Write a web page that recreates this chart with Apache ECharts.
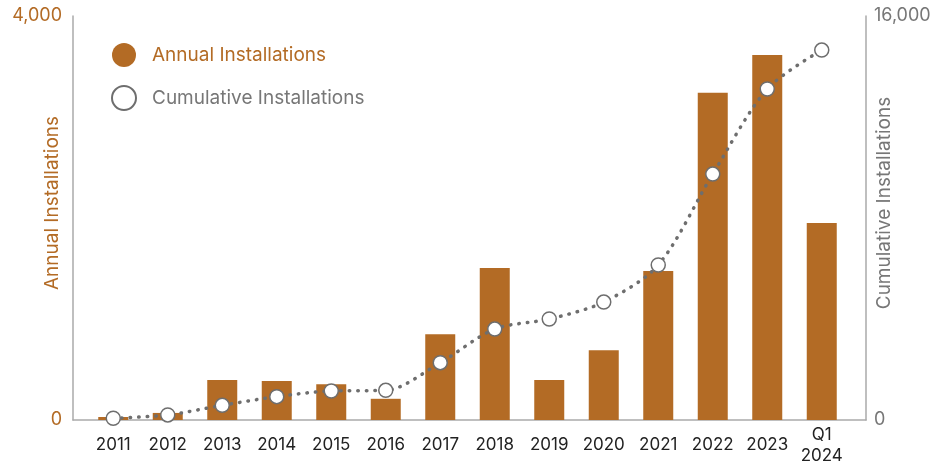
<!DOCTYPE html>
<html><head><meta charset="utf-8">
<script src="https://cdn.jsdelivr.net/npm/echarts@6/dist/echarts.min.js"></script>
<style>html,body{margin:0;padding:0;background:#fff}#c{width:946px;height:466px}</style>
</head><body><div id="c"></div>
<script>
const categories = ['2011','2012','2013','2014','2015','2016','2017','2018','2019','2020','2021','2022','2023','Q1\n2024'];
const annualInstallations = [30, 70, 395, 385, 355, 210, 850, 1505, 395, 690, 1475, 3240, 3615, 1950];
const cumulativeInstallations = [70, 200, 580, 925, 1150, 1175, 2270, 3600, 4000, 4670, 6140, 9740, 13110, 14650];
const leftTicks = [0, 4000];
const rightTicks = [0, 16000];

const BROWN = '#B36B25';
const GRAY = '#6e6e6e';
const AXIS = '#aaaaaa';
const FONT = 'Inter, "Noto Sans", sans-serif';
const fmt = v => v.toLocaleString('en-US');

const chart = echarts.init(document.getElementById('c'));
chart.setOption({
  animation: false,
  textStyle: { fontFamily: FONT },
  grid: [
    { left: 86, right: 97, top: 16, bottom: 46, outerBoundsMode: 'none', containLabel: false },
    { left: 73, right: 80, top: 16, bottom: 46, outerBoundsMode: 'none', containLabel: false }
  ],
  legend: {
    orient: 'vertical', left: 111, top: 43, padding: 0,
    itemWidth: 24, itemHeight: 24, itemGap: 18,
    icon: 'circle',
    textStyle: { fontSize: 19, fontFamily: FONT, padding: [0, 0, 0, 11] },
    data: [
      { name: 'Annual Installations', textStyle: { color: BROWN } },
      { name: 'Cumulative Installations', textStyle: { color: '#777' } }
    ]
  },
  xAxis: [
    {
      type: 'category', data: categories, gridIndex: 0,
      axisLine: { show: false }, axisTick: { show: false },
      axisLabel: { color: '#222', fontSize: 17, margin: 25, verticalAlign: 'middle', lineHeight: 21, interval: 0 }
    },
    {
      type: 'value', gridIndex: 1, min: 0, max: 1,
      axisLine: { show: true, lineStyle: { color: AXIS, width: 1.5 } },
      axisTick: { show: false }, axisLabel: { show: false }, splitLine: { show: false }
    }
  ],
  yAxis: [
    {
      type: 'value', gridIndex: 0, min: leftTicks[0], max: leftTicks[1], interval: leftTicks[1] - leftTicks[0],
      offset: 13,
      name: 'Annual Installations', nameLocation: 'middle', nameGap: 11, nameRotate: 90, nameMoveOverlap: false,
      nameTextStyle: { color: BROWN, fontSize: 19, padding: [0, 0, 0, 30] },
      axisLine: { show: true, lineStyle: { color: AXIS, width: 1.5 } },
      axisTick: { show: false }, splitLine: { show: false },
      axisLabel: { color: BROWN, fontSize: 18, margin: 11, formatter: fmt }
    },
    {
      type: 'value', gridIndex: 0, position: 'right', min: rightTicks[0], max: rightTicks[1], interval: rightTicks[1] - rightTicks[0],
      offset: 17,
      name: 'Cumulative Installations', nameLocation: 'middle', nameGap: 9, nameRotate: 90, nameMoveOverlap: false,
      nameTextStyle: { color: '#777', fontSize: 19, padding: [0, 0, 0, 30] },
      axisLine: { show: true, lineStyle: { color: AXIS, width: 1.5 } },
      axisTick: { show: false }, splitLine: { show: false },
      axisLabel: { color: '#777', fontSize: 18, margin: 8, formatter: fmt }
    },
    {
      type: 'value', gridIndex: 1, show: false
    }
  ],
  series: [
    {
      name: 'Annual Installations', type: 'bar', xAxisIndex: 0, yAxisIndex: 0,
      data: annualInstallations, barWidth: 30,
      itemStyle: { color: BROWN }
    },
    {
      name: 'Cumulative Installations', type: 'line', xAxisIndex: 0, yAxisIndex: 1,
      data: cumulativeInstallations, smooth: 0.3,
      symbol: 'circle', symbolSize: 14,
      lineStyle: { color: GRAY, width: 3.5, type: [0.5, 8], cap: 'round' },
      itemStyle: { color: '#fff', borderColor: GRAY, borderWidth: 1.5 },
      z: 5
    }
  ]
});
</script></body></html>
